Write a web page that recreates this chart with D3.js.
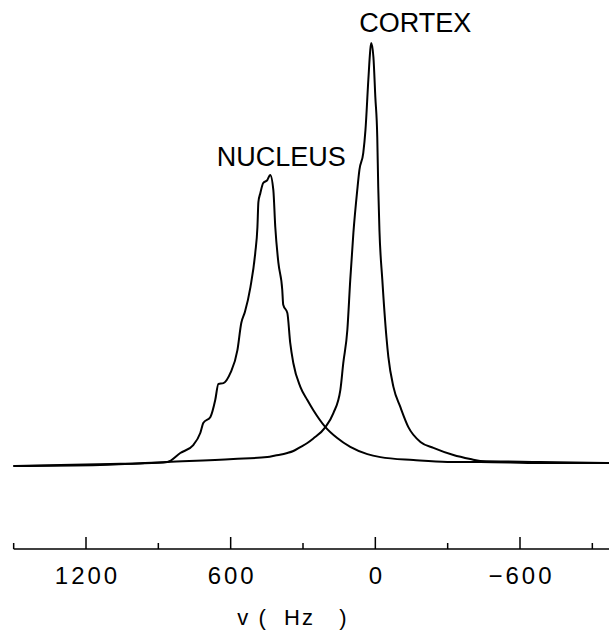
<!DOCTYPE html>
<html>
<head>
<meta charset="utf-8">
<script src="https://cdn.jsdelivr.net/npm/d3@7/dist/d3.min.js"></script>
<style>
  html, body { margin: 0; padding: 0; background: #fff; }
  svg { display: block; }
  text { font-family: "Liberation Sans", Arial, sans-serif; fill: #000; }
</style>
</head>
<body>
<svg id="chart" width="609" height="630"></svg>
<script>
// Spectra: frequency offset (Hz) and intensity (cortex peak = 100)
const nucleusHz = [1501, 1306, 1099, 975, 863, 809, 755, 726, 713, 684, 664, 651, 630, 601, 572, 556, 541, 518, 498, 489, 485, 477, 465, 448, 436, 423, 415, 402, 386, 382, 365, 353, 340, 311, 282, 257, 207, 158, 104, 33, -21, -158, -299, -435, -684, -971];
const nucleusI  = [0, 0.24, 0.47, 0.6, 0.95, 3.07, 4.96, 7.8, 10.2, 11.6, 15.6, 19.4, 19.6, 22.0, 27.4, 33.8, 36.4, 42.3, 50.4, 56.5, 62.4, 64.5, 66.9, 67.6, 68.8, 65.2, 56.5, 48.0, 41.6, 38.1, 36.2, 29.1, 24.3, 18.7, 15.6, 13.2, 9.2, 6.6, 4.5, 2.8, 2.1, 1.4, 0.95, 0.95, 0.7, 0.7];

const cortexHz = [1501, 1141, 863, 589, 448, 415, 365, 340, 311, 282, 257, 207, 174, 145, 133, 116, 104, 91, 75, 66, 50, 41, 29, 21, 17, 8, 0, -8, -12, -17, -29, -46, -54, -75, -104, -137, -187, -241, -324, -394, -435, -684, -971];
const cortexI  = [0, 0.24, 0.95, 1.65, 2.13, 2.48, 3.07, 3.55, 4.49, 5.44, 6.5, 9.2, 12.5, 18.0, 24.3, 32.2, 44.0, 55.1, 65.2, 70.0, 74.0, 79.4, 91.3, 98.3, 100, 96.7, 87.2, 77.8, 66.0, 55.8, 44.0, 30.5, 25.8, 18.7, 13.9, 9.2, 5.7, 4.3, 2.6, 1.65, 1.2, 0.95, 0.7];

const majorTicks = [1200, 600, 0, -600];
const minorTicks = [1500, 900, 300, -300, -900];
const tickLabels = ["1200", "600", "0", "\u2212600"];

const seriesLabels = ["NUCLEUS", "CORTEX"];
const axisTitle = "v (  Hz   )";

const svg = d3.select("#chart");

// Frequency axis runs high-to-low, left-to-right
const x = d3.scaleLinear().domain([1200, -600]).range([86, 520]);
const y = d3.scaleLinear().domain([0, 100]).range([466, 43]);

const line = d3.line()
  .x(d => x(d[0]))
  .y(d => y(d[1]))
  .curve(d3.curveMonotoneX);

const nucleus = nucleusHz.map((h, i) => [h, nucleusI[i]]);
const cortex = cortexHz.map((h, i) => [h, cortexI[i]]);

svg.selectAll("path.trace")
  .data([nucleus, cortex])
  .enter().append("path")
  .attr("class", "trace")
  .attr("d", line)
  .attr("fill", "none")
  .attr("stroke", "#000")
  .attr("stroke-width", 2)
  .attr("stroke-linejoin", "round");

// Peak labels
const nucPeak = nucleus[d3.maxIndex(nucleus, d => d[1])];
const corPeak = cortex[d3.maxIndex(cortex, d => d[1])];

svg.append("text")
  .attr("x", x(nucPeak[0]) + 11)
  .attr("y", y(nucPeak[1]) - 9)
  .attr("text-anchor", "middle")
  .style("font-size", "27px")
  .text(seriesLabels[0]);

svg.append("text")
  .attr("x", x(corPeak[0]) + 44)
  .attr("y", y(corPeak[1]) - 11)
  .attr("text-anchor", "middle")
  .style("font-size", "27px")
  .text(seriesLabels[1]);

// Bottom frequency axis with ticks pointing up
const axisY = 549;
const axisG = svg.append("g").attr("transform", `translate(0,${axisY})`);

axisG.append("line")
  .attr("x1", x(1500)).attr("x2", 609)
  .attr("y1", 0).attr("y2", 0)
  .attr("stroke", "#000").attr("stroke-width", 1.6);

axisG.selectAll("line.major")
  .data(majorTicks)
  .enter().append("line")
  .attr("class", "major")
  .attr("x1", d => x(d)).attr("x2", d => x(d))
  .attr("y1", 0).attr("y2", -12)
  .attr("stroke", "#000").attr("stroke-width", 1.5);

axisG.selectAll("line.minor")
  .data(minorTicks)
  .enter().append("line")
  .attr("class", "minor")
  .attr("x1", d => x(d)).attr("x2", d => x(d))
  .attr("y1", 0).attr("y2", -6)
  .attr("stroke", "#000").attr("stroke-width", 1.5);

axisG.selectAll("text.tick")
  .data(majorTicks)
  .enter().append("text")
  .attr("class", "tick")
  .attr("x", d => x(d) + 1.5)
  .attr("y", 35)
  .attr("text-anchor", "middle")
  .style("font-size", "24px")
  .style("letter-spacing", "3px")
  .text((d, i) => tickLabels[i]);

svg.append("text")
  .attr("x", x(0) - 138)
  .attr("y", 625)
  .attr("text-anchor", "start")
  .style("font-size", "22px")
  .style("letter-spacing", "2px")
  .style("white-space", "pre")
  .text(axisTitle);
</script>
</body>
</html>
